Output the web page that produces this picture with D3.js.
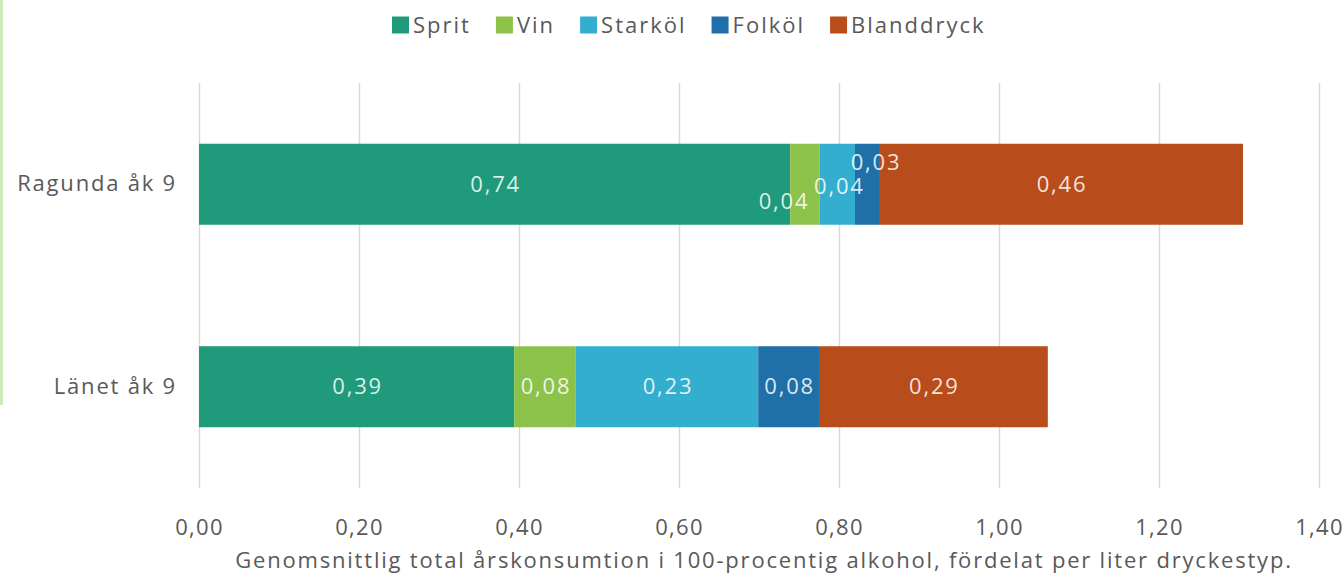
<!DOCTYPE html>
<html>
<head>
<meta charset="utf-8">
<script src="https://cdn.jsdelivr.net/npm/d3@7"></script>
<style>
	body { margin: 0; background: #fff; }
	svg { display: block; }
	text { font-family: "Open Sans", sans-serif; letter-spacing: 1.8px; }
</style>
</head>
<body>
<svg id="chart" width="1344" height="575"></svg>
<script>
// data
var categories = ['Ragunda åk 9', 'Länet åk 9'];
var series = ['Sprit', 'Vin', 'Starköl', 'Folköl', 'Blanddryck'];
var sprit = [0.739, 0.394];
var vin = [0.037, 0.077];
var starkol = [0.044, 0.228];
var folkol = [0.030, 0.076];
var blanddryck = [0.455, 0.286];
var xTicks = [0, 0.2, 0.4, 0.6, 0.8, 1.0, 1.2, 1.4];
var colors = ['#1f9a7a', '#8dc24a', '#33aecf', '#1f6fa8', '#b84c1a'];
var xTitle = 'Genomsnittlig total årskonsumtion i 100-procentig alkohol, fördelat per liter dryckestyp.';

var values = [sprit, vin, starkol, folkol, blanddryck];
var rows = categories.map(function (c, i) {
	var r = { cat: c };
	series.forEach(function (s, k) { r[s] = values[k][i]; });
	return r;
});

var svg = d3.select('#chart');
var margin = { top: 83, left: 199, right: 25, bottom: 87 };
var W = 1344, H = 575;
var fs = 22;

var x = d3.scaleLinear().domain([0, 1.4]).range([margin.left, W - margin.right]);
var y = d3.scaleBand().domain(categories).range([margin.top, H - margin.bottom])
	.paddingInner(0.6).paddingOuter(0.3);
var color = d3.scaleOrdinal().domain(series).range(colors);
var fmt = function (v) { return d3.format('.2f')(v).replace('.', ','); };

// thin green line at the left edge (picture border)
svg.append('line')
	.attr('x1', 1.5).attr('x2', 1.5).attr('y1', 0).attr('y2', 405)
	.attr('stroke', '#cfe8b8').attr('stroke-width', 3);

// gridlines
svg.append('g').selectAll('line')
	.data(xTicks)
	.enter().append('line')
	.attr('x1', function (d) { return x(d) + 0.5; })
	.attr('x2', function (d) { return x(d) + 0.5; })
	.attr('y1', margin.top)
	.attr('y2', H - margin.bottom)
	.attr('stroke', '#d9d9d9')
	.attr('stroke-width', 1.5);

// x axis labels
var xAxis = d3.axisBottom(x).tickValues(xTicks).tickFormat(fmt).tickSize(0).tickPadding(0);
var gx = svg.append('g')
	.attr('transform', 'translate(0,' + (H - margin.bottom + 31) + ')')
	.call(xAxis);
gx.select('.domain').remove();
gx.selectAll('text')
	.attr('font-family', '"Open Sans", sans-serif')
	.attr('font-size', fs)
	.style('letter-spacing', '1.3px')
	.attr('fill', '#595959');

// y labels
var yAxis = d3.axisLeft(y).tickSize(0).tickPadding(22);
var gy = svg.append('g').attr('transform', 'translate(' + margin.left + ',0)').call(yAxis);
gy.select('.domain').remove();
gy.selectAll('text')
	.attr('font-family', '"Open Sans", sans-serif')
	.attr('font-size', fs)
	.attr('fill', '#595959');

// stacked bars
var stack = d3.stack().keys(series)(rows);
var layers = svg.append('g').selectAll('g')
	.data(stack)
	.enter().append('g')
	.attr('fill', function (d) { return color(d.key); });

layers.selectAll('rect')
	.data(function (d) { return d; })
	.enter().append('rect')
	.attr('x', function (d) { return x(d[0]); })
	.attr('y', function (d) { return y(d.data.cat); })
	.attr('width', function (d) { return x(d[1]) - x(d[0]); })
	.attr('height', y.bandwidth());

// label nudges where Excel moved overlapping labels
var labelShift = {
	'Ragunda åk 9|Vin': [-22, 17],
	'Ragunda åk 9|Starköl': [1, 2],
	'Ragunda åk 9|Folköl': [8, -22]
};

var labels = svg.append('g');
stack.forEach(function (layer) {
	layer.forEach(function (d) {
		var sh = labelShift[d.data.cat + '|' + layer.key] || [0, 0];
		labels.append('text')
			.attr('x', (x(d[0]) + x(d[1])) / 2 + sh[0] + 1)
			.attr('y', y(d.data.cat) + y.bandwidth() / 2 + sh[1])
			.attr('dy', '0.35em')
			.attr('text-anchor', 'middle')
			.attr('font-size', fs)
			.attr('fill', '#fff')
			.attr('fill-opacity', 0.85)
			.text(fmt(d[1] - d[0]));
	});
});

// axis title
svg.append('text')
	.attr('x', 764)
	.attr('y', 560)
	.attr('dy', '0.35em')
	.attr('text-anchor', 'middle')
	.attr('font-size', fs)
	.attr('fill', '#595959')
	.text(xTitle);

// legend
var legend = svg.append('g');
var lx = 392;
series.forEach(function (s) {
	var g = legend.append('g').attr('transform', 'translate(' + lx + ',25)');
	g.append('rect')
		.attr('x', 0).attr('y', -8.5)
		.attr('width', 17).attr('height', 17)
		.attr('fill', color(s));
	var t = g.append('text')
		.attr('x', 21)
		.attr('dy', '0.35em')
		.attr('font-size', fs)
		.style('letter-spacing', '2px')
		.attr('fill', '#595959')
		.text(s);
	lx += 21 + t.node().getComputedTextLength() + 25;
});
</script>
</body>
</html>
